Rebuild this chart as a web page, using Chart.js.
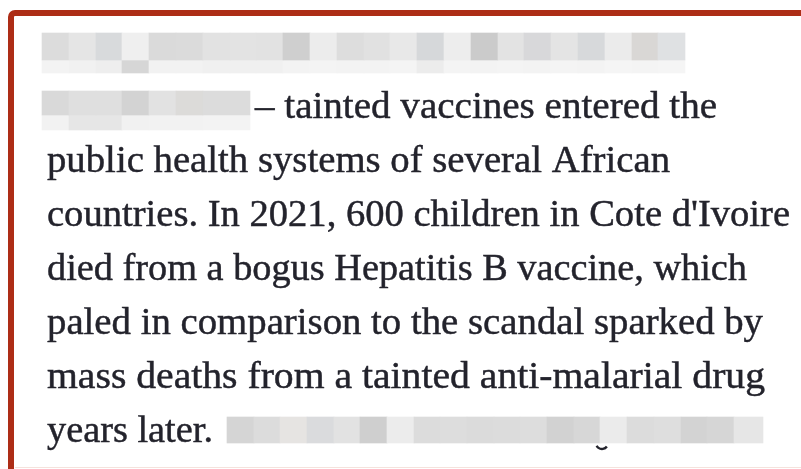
<!DOCTYPE html>
<html>
<head>
<meta charset="utf-8">
<script src="https://cdn.jsdelivr.net/npm/chart.js@4.4.1/dist/chart.umd.min.js"></script>
<style>
  html, body { margin: 0; padding: 0; background: #fff; overflow: hidden; }
  #frame {
    position: absolute; left: 8px; top: 10px;
    width: 1200px; height: 1200px;
    border: 6px solid #ad2d16; border-radius: 7px;
  }
  #rule { position: absolute; left: 15px; top: 467px; width: 800px; height: 1px; background: #f5e2dc; }
  #wrap { position: absolute; left: 0; top: 0; width: 801px; height: 469px; }
</style>
</head>
<body>
<div id="frame"></div>
<div id="rule"></div>
<div id="wrap"><canvas id="page" width="801" height="469"></canvas></div>
<script>
// Text lines (line 1 is fully redacted)
const lineTexts = [
    "",
    "\u2013 tainted vaccines entered the",
    "public health systems of several African",
    "countries. In 2021, 600 children in Cote d'Ivoire",
    "died from a bogus Hepatitis B vaccine, which",
    "paled in comparison to the scandal sparked by",
    "mass deaths from a tainted anti-malarial drug",
    "years later."
];

// Redaction mosaic: cell edges and grey shades per row
const row1Edges = [42, 69, 96, 122, 149, 176, 203, 230, 256, 283, 310, 337, 364, 390, 417, 444, 471, 498, 524, 551, 578, 605, 632, 658, 685];
const row1Shades = ["#dcdcdc", "#e5e5e5", "#d8dadc", "#efefef", "#dadada", "#dbdbdb", "#e2e2e2", "#e3e3e3", "#e2e2e2", "#cfcfcf", "#ececec", "#dddddd",
    "#e1e1e1", "#e8e8e8", "#d6d8da", "#ededed", "#cbcbcb", "#e3e3e3", "#d8d8da", "#e4e4e4", "#d7d9db", "#ebebeb", "#d9d7d5", "#dfe1e3"];
const row1Fade = ["#f3f3f3", "#f1f1f1", "#eeeeee", "#d6d6d6", "#f2f2f2", "#f2f2f2", "#f0f0f0", "#f0f0f0", "#f0f0f0", "#f3f3f3", "#f4f4f4", "#f3f3f3",
    "#f3f3f3", "#f4f4f4", "#ececec", "#f4f4f4", "#f3f3f3", "#f4f4f4", "#f3f3f3", "#f4f4f4", "#f3f3f3", "#f5f5f5", "#f4f4f4", "#f5f5f5"];

const row2Edges = [42, 69, 96, 122, 149, 176, 203, 250];
const row2Shades = ["#d9d9d9", "#dfdfdf", "#dfdfdf", "#d3d3d3", "#e2e2e2", "#dcdbd9", "#dcdcdc"];
const row2Fade = ["#f2f2f2", "#e6e6e6", "#e6e6e6", "#f1f1f1", "#f2f2f2", "#f2f2f2", "#f3f3f3"];

const row8Edges = [227, 254, 280, 307, 334, 360, 387, 414, 440, 467, 494, 520, 547, 574, 600, 627, 654, 681, 707, 734, 763];
const row8Shades = ["#d5d5d5", "#dcdcdc", "#e6e4e2", "#dadbdd", "#e2e2e2", "#cfcfcf", "#ececec", "#dcdcdc", "#dddddd", "#dbdbdb",
    "#dcdcdc", "#dddddd", "#d2d2d2", "#d7d7d7", "#ebebeb", "#dcdcdc", "#dedede", "#d3d3d3", "#d6d6d6", "#e6e6e6"];

// layout (px): where each text line starts/ends, and how each mosaic row sits on its line
const LINE_PX = 54;
const textStart = [0, 255, 47, 47, 47, 47, 47, 47];
const textEnd = [0, 717, 670, 790, 747, 763, 765, 213];
const mosaicRows = [
    { line: 1, edges: row1Edges, shades: row1Shades, shift: -17.5, thick: 27 },
    { line: 1, edges: row1Edges, shades: row1Fade, shift: 2.5, thick: 13 },
    { line: 2, edges: row2Edges, shades: row2Shades, shift: -15, thick: 24 },
    { line: 2, edges: row2Edges, shades: row2Fade, shift: 4.5, thick: 15 },
    { line: 8, edges: row8Edges, shades: row8Shades, shift: -12, thick: 26 }
];

const datasets = mosaicRows.map(r => ({
    data: r.shades.map((c, i) => ({ y: r.line + r.shift / LINE_PX, x: [r.edges[i], r.edges[i + 1]] })),
    backgroundColor: r.shades,
    borderWidth: 0,
    barThickness: r.thick,
    grouped: false,
    clip: false
}));

const textPlugin = {
    id: "textLines",
    afterDatasetsDraw(chart) {
        const ctx = chart.ctx;
        const yScale = chart.scales.y;
        ctx.save();
        ctx.fillStyle = "#23232c";
        ctx.strokeStyle = "#23232c";
        ctx.lineWidth = 0.45;
        ctx.font = "38px 'Liberation Serif'";
        ctx.textBaseline = "alphabetic";
        lineTexts.forEach((t, i) => {
            if (!t) return;
            const y = yScale.getPixelForValue(i + 1);
            const w = ctx.measureText(t).width;
            const sx = (textEnd[i] - textStart[i]) / w;
            ctx.save();
            ctx.translate(textStart[i], y);
            ctx.scale(sx, 1);
            ctx.fillText(t, 0, 0);
            ctx.strokeText(t, 0, 0);
            ctx.restore();
        });
        // descender of a hidden "g" peeking under the last redaction
        ctx.beginPath();
        ctx.lineWidth = 2.4;
        ctx.arc(602, yScale.getPixelForValue(8) + 1, 6, 0.2 * Math.PI, 0.85 * Math.PI);
        ctx.stroke();
        ctx.restore();
    }
};

new Chart(document.getElementById("page").getContext("2d"), {
    type: "bar",
    data: { datasets },
    options: {
        indexAxis: "y",
        responsive: false,
        animation: false,
        devicePixelRatio: 1,
        events: [],
        layout: { padding: { top: 10, bottom: 27, left: 0, right: 0 } },
        plugins: { legend: { display: false }, tooltip: { enabled: false } },
        scales: {
            x: { type: "linear", min: 0, max: 801, display: false, offset: false },
            y: { type: "linear", min: 0, max: 8, reverse: true, display: false, offset: false }
        }
    },
    plugins: [textPlugin]
});
</script>
</body>
</html>
